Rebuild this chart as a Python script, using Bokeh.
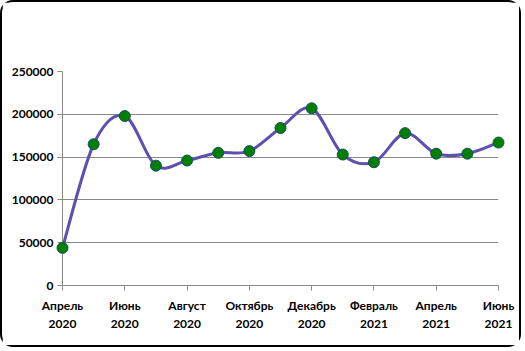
from bokeh.plotting import figure
from bokeh.models import FixedTicker
from bokeh.embed import file_html
from bokeh.resources import INLINE

months = ["Апрель\n2020", "Май\n2020", "Июнь\n2020", "Июль\n2020", "Август\n2020",
          "Сентябрь\n2020", "Октябрь\n2020", "Ноябрь\n2020", "Декабрь\n2020",
          "Январь\n2021", "Февраль\n2021", "Март\n2021", "Апрель\n2021",
          "Май\n2021", "Июнь\n2021"]
values = [44000, 165000, 198000, 140000, 146000, 155000, 157000, 184000,
          207000, 153000, 144000, 178000, 154000, 154000, 167000]
y_ticks = [0, 50000, 100000, 150000, 200000, 250000]

xs = list(range(len(values)))
n = len(values)

# Bezier segments (smoothed line like a spreadsheet chart)
x0, y0, x1, y1, cx0, cy0, cx1, cy1 = [], [], [], [], [], [], [], []
for i in range(n - 1):
    pm = max(i - 1, 0)
    pp = min(i + 2, n - 1)
    x0.append(xs[i]); y0.append(values[i])
    x1.append(xs[i + 1]); y1.append(values[i + 1])
    cx0.append(xs[i] + (xs[i + 1] - xs[pm]) / 6)
    cy0.append(values[i] + (values[i + 1] - values[pm]) / 6)
    cx1.append(xs[i + 1] - (xs[pp] - xs[i]) / 6)
    cy1.append(values[i + 1] - (values[pp] - values[i]) / 6)

p = figure(width=521, height=347, output_backend="svg", toolbar_location=None,
           x_range=(0, n - 1), y_range=(0, 250000),
           min_border_left=60, min_border_right=25, min_border_top=69,
           min_border_bottom=64)
p.styles = {"border": "2px solid black", "border-radius": "13px"}

p.outline_line_color = None
p.background_fill_color = "white"
p.border_fill_color = "white"

p.bezier(x0=x0, y0=y0, x1=x1, y1=y1, cx0=cx0, cy0=cy0, cx1=cx1, cy1=cy1,
         line_color="#5F4FB0", line_width=3)
p.scatter(xs, values, size=11, fill_color="#008000", line_color="#1A4A6A",
          line_width=1, level="overlay")

p.xgrid.visible = False
p.ygrid.grid_line_color = "#8A8A8A"
p.ygrid.grid_line_width = 1
p.ygrid.ticker = FixedTicker(ticks=y_ticks)

p.xaxis.ticker = FixedTicker(ticks=xs[::2])
p.xaxis.major_label_overrides = {i: months[i] for i in xs[::2]}
p.yaxis.ticker = FixedTicker(ticks=y_ticks)

for ax in (p.xaxis, p.yaxis):
    ax.axis_line_color = "#8A8A8A"
    ax.major_tick_line_color = "#8A8A8A"
    ax.minor_tick_line_color = None
    ax.major_tick_in = 0
    ax.major_tick_out = 5
    ax.major_label_text_font = "Lato"
    ax.major_label_text_color = "black"
    ax.major_label_text_font_style = "bold"

p.xaxis.major_label_text_font_size = "12px"
p.xaxis.major_label_standoff = 7
p.yaxis.major_label_text_font_size = "12px"
p.yaxis.major_label_standoff = 4
p.yaxis.formatter.use_scientific = False

open("out.html", "w").write(file_html(p, INLINE))
